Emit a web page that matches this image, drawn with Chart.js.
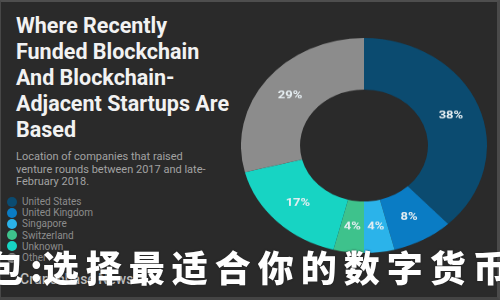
<!DOCTYPE html>
<html>
<head>
<meta charset="utf-8">
<script src="https://cdn.jsdelivr.net/npm/chart.js@4"></script>
<style>
  html, body { margin: 0; padding: 0; }
  body {
    width: 500px; height: 300px; overflow: hidden; position: relative;
    background: #2a2a2a;
    font-family: Roboto, "Noto Sans", sans-serif;
  }
  .frame {
    position: absolute; left: 0; top: 0; width: 500px; height: 300px;
    box-sizing: border-box;
    border-top: 2px solid #4e4e4e; border-left: 1px solid #474747;
    border-right: 3px solid #4a4a4a; border-bottom: 3px solid #444;
  }
  #title {
    position: absolute; left: 16px; top: 13px; margin: 0;
    color: #f2f2f2; font-weight: 700; font-size: 21.5px; line-height: 26px;
  }
  #sub {
    position: absolute; left: 16px; top: 151px; width: 190px;
    color: #a2a2a2; font-size: 11px; line-height: 12.5px;
  }
  #legend { position: absolute; left: 7px; top: 196px; }
  .row { height: 11.2px; display: flex; align-items: center; font-size: 10px; color: #8c8c8c; }
  .dot { width: 10px; height: 10px; border-radius: 50%; margin-right: 5px; }
  #source {
    position: absolute; left: 20px; top: 271px;
    color: #bdbdbd; font-size: 14px; font-weight: 500;
  }
  #chartBox {
    position: absolute; left: 241px; top: 38px; width: 246px; height: 246px;
    transform: scaleY(0.874); transform-origin: top left;
  }
  #wm {
    position: absolute; left: -13px; top: 248px; white-space: nowrap;
    font-family: "Noto Sans CJK SC", sans-serif; font-weight: 900;
    font-size: 36px; line-height: 36px; letter-spacing: 7px;
    color: #ffffff; text-shadow: 0 0 2px #222;
  }
  #wm .sep { letter-spacing: 0; }
</style>
</head>
<body>
<div class="frame"></div>
<h1 id="title">Where Recently<br>Funded Blockchain<br>And Blockchain-<br>Adjacent Startups Are<br>Based</h1>
<div id="sub">Location of companies that raised venture rounds between 2017 and late-February 2018.</div>
<div id="legend"></div>
<div id="source">Crunchbase News</div>
<div id="chartBox"><canvas id="donut" width="246" height="246"></canvas></div>
<div id="wm">包<span class="sep">:</span>选择最适合你的数字货币</div>
<script>
let countries = [
    'United States',
    'United Kingdom',
    'Singapore',
    'Switzerland',
    'Unknown',
    'Other'
];

let shares = [38, 8, 4, 4, 17, 29];

let sliceColors = [
    '#0b4b70',
    '#0a7cc4',
    '#2bb3ea',
    '#3ec28c',
    '#17d4c3',
    '#8c8c8c'
];

// legend rows
const legend = document.getElementById('legend');
countries.forEach((name, i) => {
    const row = document.createElement('div');
    row.className = 'row';
    row.innerHTML = '<span class="dot" style="background:' + sliceColors[i] + '"></span>' + name;
    legend.appendChild(row);
});

// percent labels in the middle of each slice
const sliceLabels = {
    id: 'sliceLabels',
    afterDatasetsDraw(chart) {
        const ctx = chart.ctx;
        const meta = chart.getDatasetMeta(0);
        ctx.save();
        ctx.font = 'bold 13px Roboto';
        ctx.fillStyle = '#e6eef2';
        ctx.textAlign = 'center';
        ctx.textBaseline = 'middle';
        meta.data.forEach((arc, i) => {
            const p = arc.tooltipPosition();
            ctx.fillText(chart.data.datasets[0].data[i] + '%', p.x, p.y);
        });
        ctx.restore();
    }
};

const data = {
    labels: countries,
    datasets: [{
        data: shares,
        backgroundColor: sliceColors,
        borderWidth: 0
    }]
};

const config = {
    type: 'doughnut',
    data: data,
    options: {
        responsive: false,
        animation: false,
        cutout: '52%',
        layout: { padding: 0 },
        plugins: {
            legend: { display: false },
            tooltip: { enabled: false }
        }
    },
    plugins: [sliceLabels]
};

const chart = new Chart(document.getElementById('donut'), config);
</script>
</body>
</html>
